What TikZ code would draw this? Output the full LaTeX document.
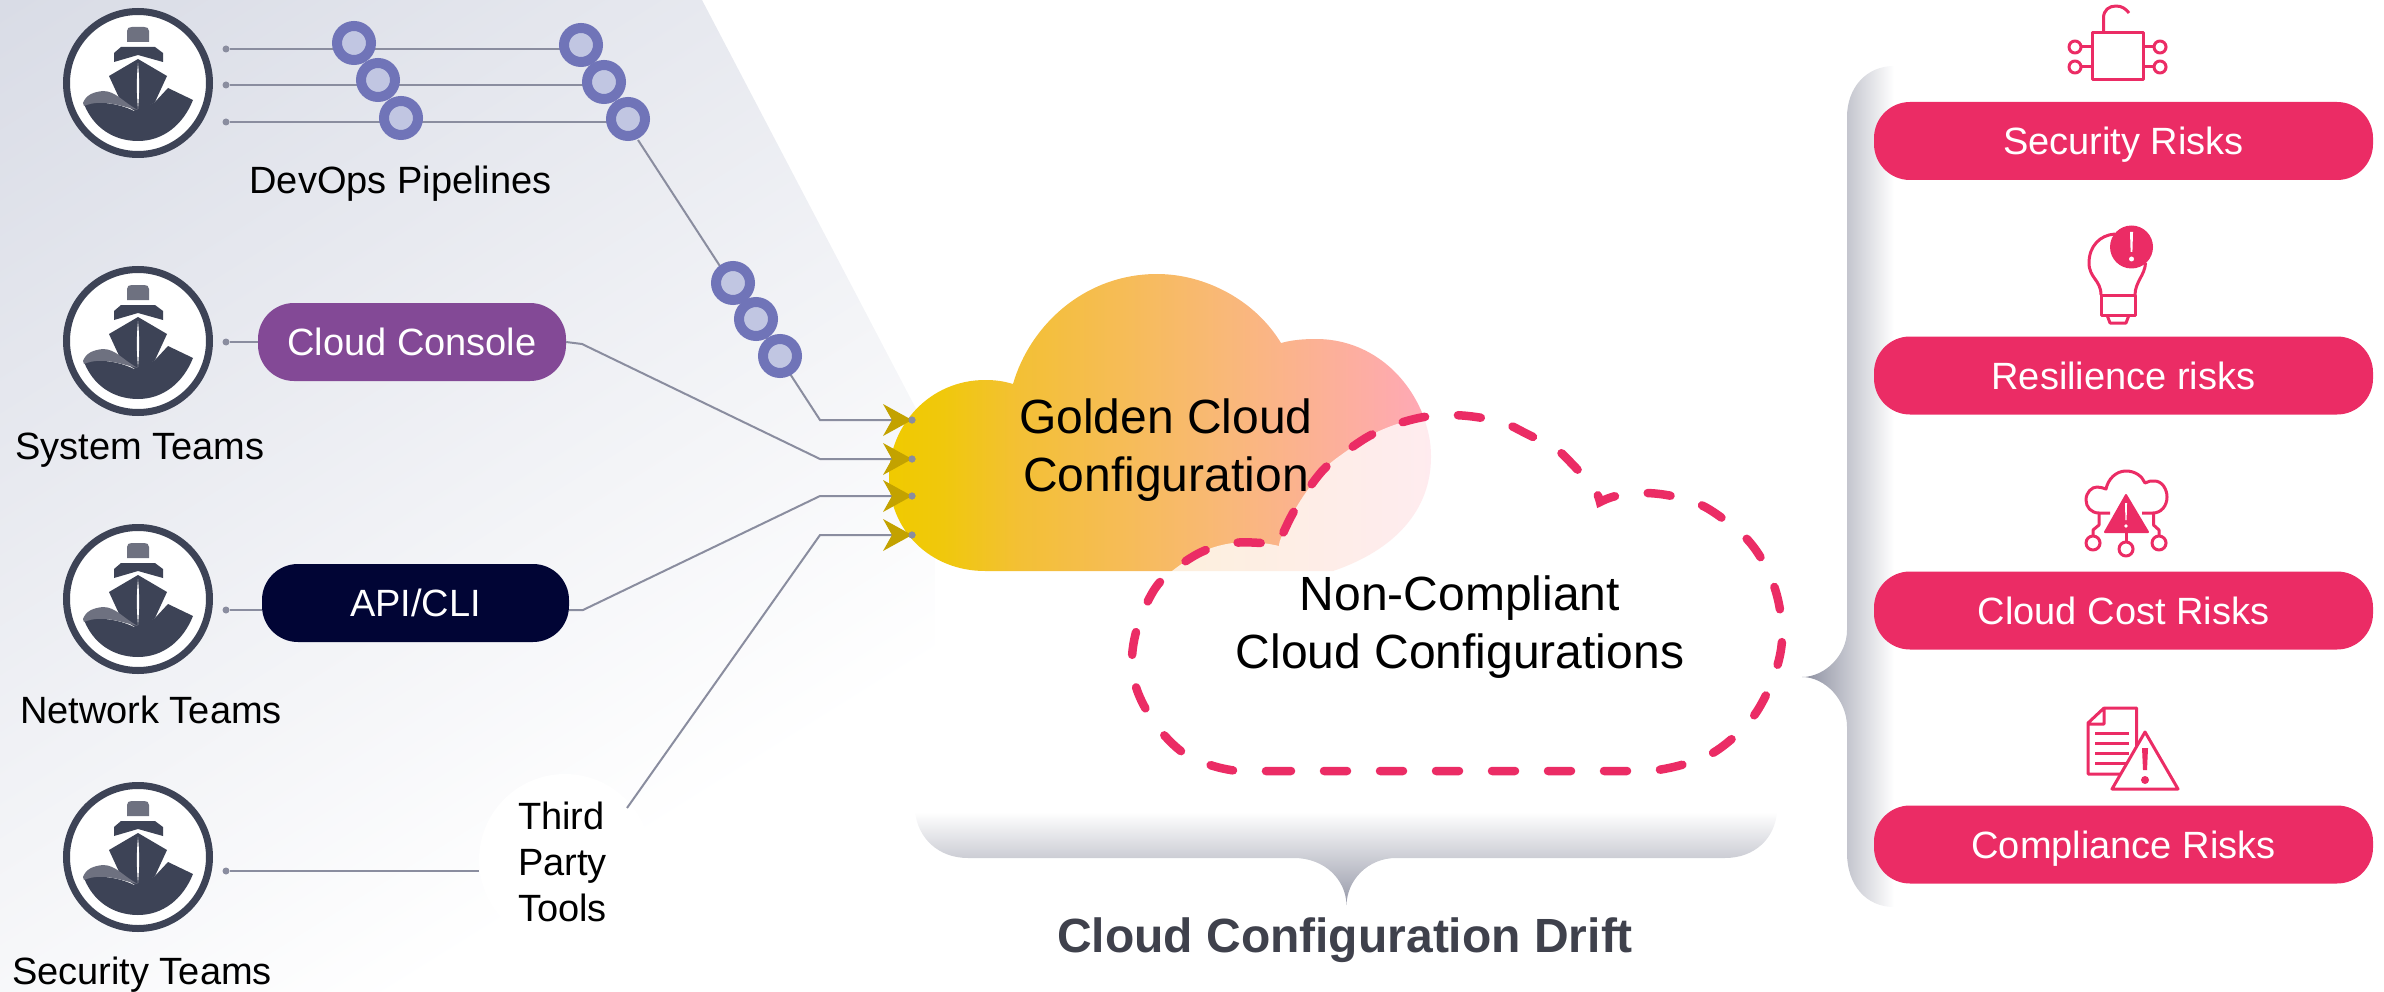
\documentclass[tikz,border=0pt]{standalone}
\usepackage{fontspec}
\setmainfont{Liberation Sans}
\usetikzlibrary{calc}
\definecolor{bgtop}{HTML}{D9DCE6}
\definecolor{wirec}{HTML}{8A8D9F}
\definecolor{ringc}{HTML}{7074B8}
\definecolor{ringin}{HTML}{C1C6E2}
\definecolor{shipd}{HTML}{3D4356}
\definecolor{shipg}{HTML}{6E7180}
\definecolor{pinkc}{HTML}{EB2C65}
\definecolor{purplec}{HTML}{834996}
\definecolor{navyc}{HTML}{010535}
\definecolor{olivec}{HTML}{C3A200}
\definecolor{titlec}{HTML}{3F414C}
\definecolor{gA}{HTML}{F0CA00}
\definecolor{gB}{HTML}{F0C80C}
\definecolor{gC}{HTML}{F3C035}
\definecolor{gD}{HTML}{F9B878}
\definecolor{gE}{HTML}{FFA8B8}
\definecolor{brA}{HTML}{8B8E9F}
\definecolor{brB}{HTML}{BABDC8}
\pgfdeclarehorizontalshading{bgshade}{100bp}{color(0bp)=(bgtop); color(39bp)=(bgtop); color(61bp)=(white); color(100bp)=(white)}
\pgfdeclarehorizontalshading{goldshade}{100bp}{color(0bp)=(gA); color(25bp)=(gA); color(30bp)=(gB); color(37bp)=(gC); color(56bp)=(gD); color(75bp)=(gE); color(100bp)=(gE)}
\tikzset{
  x=1pt,y=-1pt,
  wire/.style={draw=wirec,line width=2pt},
  thickwire/.style={draw=wirec,line width=2.6pt},
  dotn/.style={circle,fill=wirec,inner sep=0pt,minimum size=7pt},
  ringn/.style={circle,draw=ringc,fill=ringin,line width=10pt,inner sep=0pt,minimum size=34pt},
  shipring/.style={circle,draw=shipd,fill=white,line width=7pt,inner sep=0pt,minimum size=143pt},
  pill/.style={rounded corners=36pt,inner sep=0pt,minimum height=78pt,text=white,text height=27pt,text depth=0pt,font=\fontsize{38}{46}\selectfont},
  riskpill/.style={pill,fill=pinkc,minimum width=499pt},
  lab/.style={inner sep=0pt,text=black,text height=27pt,text depth=0pt,font=\fontsize{38}{46}\selectfont},
  biglab/.style={inner sep=0pt,text=black,align=center,font=\fontsize{48}{58}\selectfont},
  icon/.style={draw=pinkc,line width=3pt,line join=round},
  headfill/.style={fill=olivec},
  dash cloud/.style={draw=pinkc,line width=8.5pt,line cap=round,dash pattern=on 23pt off 33pt},
}
\newcommand\shipicon[2]{%
  \node[shipring] (#1) at (#2) {};
  \begin{scope}[shift={(#2)}]
    \fill[shipg] (-11,-41) -- (-11,-52) .. controls (-11,-55) and (-9,-56) .. (-6,-56) -- (6,-56) .. controls (9,-56) and (11,-55) .. (11,-52) -- (11,-41) -- cycle;
    \fill[shipd] (-24,-30) -- (-17,-36) -- (17,-36) -- (25,-30) -- (25,-21) -- (0,-28) -- (-24,-21) -- cycle;
    \fill[shipd] (0,-24) -- (29,-7) -- (17,19) -- (0,30) -- (-17,19) -- (-29,-7) -- cycle;
    \fill[shipd] (-54,21) .. controls (-40,18) and (-20,20) .. (-4,28) -- (0,28) -- (17,19) -- (30,5) -- (55,17) .. controls (45,42) and (25,58) .. (0,58) .. controls (-25,58) and (-45,44) .. (-54,21) -- cycle;
    \fill[shipg] (-55,20) .. controls (-52,12) and (-45,9) .. (-35,8) .. controls (-22,8) and (-14,20) .. (0,27) .. controls (-15,24) and (-35,15) .. (-54,23) -- cycle;
    \fill[white] (0,-20) .. controls (1.5,-5) and (1.5,10) .. (0,26) .. controls (-1.5,10) and (-1.5,-5) .. (0,-20) -- cycle;
  \end{scope}}
\newcommand\olivehead[1]{\fill[headfill,shift={(#1)}] (0,0) -- (-29,-16) -- (-20,0) -- (-29,16) -- cycle;}
\def\driftpath{(1268,771) -- (1640,771) -- plot[smooth,tension=.6] coordinates {(1640,771) (1658,770) (1685,764) (1711,754) (1734,737) (1753,717) (1767,693) (1777,667) (1782,640) (1780,610) (1773,583) (1761,558) (1745,537) (1722,518) (1699,504) (1672,496) (1644,493) (1616,496) (1600,502)} -- plot[smooth,tension=.6] coordinates {(1600,502) (1594,488) (1575,467) (1555,448) (1529,435) (1504,423) (1476,417) (1449,415) (1424,417) (1397,424) (1371,435) (1348,450) (1326,467) (1309,488) (1293,513) (1281,538) (1279,546)} -- plot[smooth,tension=.6] coordinates {(1279,546) (1261,543) (1233,543) (1206,550) (1183,563) (1160,582) (1146,605) (1136,632) (1132,660) (1136,687) (1148,713) (1164,735) (1185,754) (1210,765) (1238,771) (1268,771)}}
\begin{document}
\begin{tikzpicture}
\useasboundingbox (0,0) rectangle (2384,992);
% background panel
\begin{scope}
  \clip (0,0) -- (702,0) -- (935,445) -- (935,680) -- (700,992) -- (0,992) -- cycle;
  \path[shading=bgshade,shading angle=-58] (-919,-750) rectangle (1481,1650);
\end{scope}
% braces
\path[left color=brA,middle color=brB,right color=white] (1894,66) .. controls (1866,66) and (1847,88) .. (1847,117) -- (1847,630) .. controls (1847,655) and (1825,677) .. (1802,677) .. controls (1825,677) and (1847,700) .. (1847,727) -- (1847,853) .. controls (1847,885) and (1866,907) .. (1894,907) -- cycle;
\path[top color=white,middle color=brB,bottom color=brA!90!white] (915,812) .. controls (918,838) and (938,858) .. (968,858) -- (1294,858) .. controls (1325,858) and (1346,880) .. (1346.5,905) .. controls (1347,880) and (1368,858) .. (1396,858) -- (1725,858) .. controls (1755,858) and (1775,838) .. (1777,812) -- cycle;
% golden cloud
\path[shading=goldshade] (985,571) -- (1333,571) .. controls (1395,550) and (1431,510) .. (1431,457) .. controls (1431,440) and (1428,430) .. (1423,415) .. controls (1405,370) and (1365,339) .. (1316,339) .. controls (1303,339) and (1292,340) .. (1281,343) .. controls (1255,300) and (1205,274) .. (1157,274) .. controls (1085,274) and (1030,325) .. (1013,384) .. controls (1003,381) and (995,380) .. (985,380) .. controls (930,380) and (889,425) .. (889,477) .. controls (889,530) and (930,571) .. (985,571) -- cycle;
\fill[white,fill opacity=.78] \driftpath -- cycle;
% named points
\node[dotn] (d1) at (226,49) {};
\node[dotn] (d2) at (226,85) {};
\node[dotn] (d3) at (226,122) {};
\node[dotn] (dB) at (226,342) {};
\node[dotn] (dC) at (226,610) {};
\node[dotn] (dD) at (226,871) {};
\node[dotn] (tA) at (912,420) {};
\node[dotn] (tB) at (912,459) {};
\node[dotn] (tC) at (912,496) {};
\node[dotn] (tD) at (912,535) {};
\coordinate (e1) at (581,49);
\coordinate (e2) at (604,85);
\coordinate (e3) at (628,122);
\coordinate (kA0) at (638,140);
\coordinate (kA1) at (820,420);
\coordinate (kB0) at (582,344);
\coordinate (kB1) at (820,459);
\coordinate (kC0) at (583,610);
\coordinate (kC1) at (820,496);
\coordinate (kD0) at (627,808);
\coordinate (kD1) at (820,535);
% third party blob
\node[circle,fill=white,inner sep=0pt,minimum size=172pt] (blob) at (565,860) {};
% pills
\node[pill,fill=purplec,minimum width=308pt] (pillB) at (412,342) {Cloud Console};
\node[pill,fill=navyc,minimum width=307pt] (pillC) at (415.5,603) {API/CLI};
% connectors
\draw[thickwire] (d1) -- (e1);
\draw[thickwire] (d2) -- (e2);
\draw[thickwire] (d3) -- (e3);
\draw[wire] (kA0) -- (kA1) -- (tA);
\draw[thickwire] (dB) -- (pillB.west);
\draw[wire] (pillB.east) -- (kB0) -- (kB1) -- (tB);
\draw[thickwire] (dC) -- (dC -| pillC.west);
\draw[wire] (pillC.east |- dC) -- (kC0) -- (kC1) -- (tC);
\draw[wire] (dD) -- (dD -| blob.west);
\draw[wire] (kD0) -- (kD1) -- (tD);
% rings
\node[ringn] (r1) at (354,43) {};
\node[ringn] (r2) at (378,80) {};
\node[ringn] (r3) at (401,118) {};
\node[ringn] (r4) at (581,45) {};
\node[ringn] (r5) at (604,82) {};
\node[ringn] (r6) at (628,119) {};
\node[ringn] (r7) at (733,283) {};
\node[ringn] (r8) at (756,319) {};
\node[ringn] (r9) at (780,356) {};
% arrowheads, dots on top
\olivehead{tA}\olivehead{tB}\olivehead{tC}\olivehead{tD}
\node[dotn] at (tA) {};
\node[dotn] at (tB) {};
\node[dotn] at (tC) {};
\node[dotn] at (tD) {};
% ships
\shipicon{s1}{138,83}
\shipicon{s2}{138,341}
\shipicon{s3}{138,599}
\shipicon{s4}{138,857}
% labels
\node[lab] (lDev) at (400.5,180) {DevOps Pipelines};
\node[lab] (lSys) at (140,446) {System Teams};
\node[lab] (lNet) at (151,709.5) {Network Teams};
\node[lab] (lSec) at (142,971) {Security Teams};
\node[inner sep=0pt,text=black,font=\fontsize{38}{46}\selectfont,align=left,anchor=west] (lThird) at (518,862) {Third\\Party\\Tools};
\node[biglab] (lGold) at (1166,450) {Golden Cloud\\Configuration};
\node[biglab] (lNon) at (1460,627) {Non-Compliant\\Cloud Configurations};
\node[inner sep=0pt,text=titlec,text height=34.4pt,text depth=0pt,font=\fontsize{48}{57}\selectfont\bfseries] (lDrift) at (1345,935.5) {Cloud Configuration Drift};
% dashed cloud
\draw[dash cloud] \driftpath;
% risk pills
\node[riskpill] (p1) at (2123.5,141) {Security Risks};
\node[riskpill] (p2) at (2123.5,375.5) {Resilience risks};
\node[riskpill] (p3) at (2123.5,610.5) {Cloud Cost Risks};
\node[riskpill] (p4) at (2123.5,844.5) {Compliance Risks};
% lock icon
\draw[icon] (2092,33) rectangle (2143,80);
\draw[icon] (2103.5,33) -- (2103.5,18) .. controls (2103.5,10) and (2109,6) .. (2116,6) .. controls (2122,6) and (2126,9) .. (2129,13);
\draw[icon] (2092,47) -- (2081.5,47) (2092,67) -- (2081.5,67) (2143,47) -- (2153.5,47) (2143,67) -- (2153.5,67);
\draw[icon] (2075,47) circle[radius=6] (2075,67) circle[radius=6] (2160,47) circle[radius=6] (2160,67) circle[radius=6];
% bulb icon
\draw[icon] (2101,295) .. controls (2101,280) and (2089,278) .. (2089,263) .. controls (2089,246) and (2100,235) .. (2115,234) (2145.5,263) .. controls (2145,275) and (2135,282) .. (2135,295);
\draw[icon] (2101,295) rectangle (2135,315);
\draw[icon] (2107,315) -- (2110,323) -- (2126,323) -- (2129,315);
\fill[pinkc] (2131.5,247) circle[radius=21.5];
\fill[white] (2130,232) -- (2133,232) -- (2132.4,252) -- (2130.6,252) -- cycle;
\fill[white] (2131.5,259) circle[radius=2.5];
% cloud cost icon
\draw[icon] (2110,513) -- (2099,513) .. controls (2091,513) and (2086,507) .. (2086,500) .. controls (2086,492) and (2092,487) .. (2097,487) .. controls (2100,487) and (2103,488) .. (2106,489) .. controls (2108,479) and (2116,471) .. (2126,471) .. controls (2135,471) and (2142,476) .. (2145,483) .. controls (2148,481) and (2151,481) .. (2154.5,481) .. controls (2162,481) and (2167,489) .. (2167,497) .. controls (2167,506) and (2161,513) .. (2153,513) -- (2142,513);
\fill[pinkc,draw=pinkc,line width=2pt,line join=round] (2126,495) -- (2148,532) -- (2105,532) -- cycle;
\fill[white] (2125,503) -- (2127,503) -- (2126.6,520) -- (2125.4,520) -- cycle;
\fill[white] (2126,526) circle[radius=1.8];
\draw[icon] (2099,514) -- (2099,525) -- (2093,530) -- (2093,536);
\draw[icon] (2153.5,514) -- (2153.5,525) -- (2159,530) -- (2159,536);
\draw[icon] (2126,532) -- (2126,542);
\draw[icon] (2093,543) circle[radius=7] (2159,543) circle[radius=7] (2126,549) circle[radius=7];
% compliance icon
\draw[icon] (2104,708) -- (2136.5,708) -- (2136.5,750) (2122,774) -- (2088,774) -- (2088,723) -- (2104,708) -- (2104,724) -- (2088,724);
\draw[draw=pinkc,line width=3pt] (2095,733) -- (2129,733) (2095,743) -- (2129,743) (2095,753) -- (2129,753) (2095,763) -- (2129,763);
\draw[icon,fill=white] (2145,732) -- (2178,789) -- (2112,789) -- cycle;
\fill[pinkc] (2142,748) -- (2148,748) -- (2147,770) -- (2143,770) -- cycle;
\fill[pinkc] (2145,780) circle[radius=4];
\end{tikzpicture}
\end{document}
